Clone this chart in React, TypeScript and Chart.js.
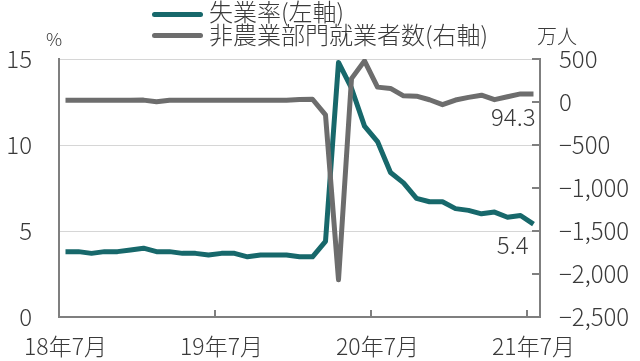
import { useEffect, useRef } from "react";
import { Chart, registerables } from "chart.js";

Chart.register(...registerables);

const months = [
  "18年7月", "18年8月", "18年9月", "18年10月", "18年11月", "18年12月",
  "19年1月", "19年2月", "19年3月", "19年4月", "19年5月", "19年6月",
  "19年7月", "19年8月", "19年9月", "19年10月", "19年11月", "19年12月",
  "20年1月", "20年2月", "20年3月", "20年4月", "20年5月", "20年6月",
  "20年7月", "20年8月", "20年9月", "20年10月", "20年11月", "20年12月",
  "21年1月", "21年2月", "21年3月", "21年4月", "21年5月", "21年6月",
  "21年7月",
];
const xTickLabels = ["18年7月", "19年7月", "20年7月", "21年7月"];

// 失業率 (%), left axis
const unemploymentRate = [
  3.8, 3.8, 3.7, 3.8, 3.8, 3.9,
  4.0, 3.8, 3.8, 3.7, 3.7, 3.6,
  3.7, 3.7, 3.5, 3.6, 3.6, 3.6,
  3.5, 3.5, 4.4, 14.8, 13.3, 11.1,
  10.2, 8.4, 7.8, 6.9, 6.7, 6.7,
  6.3, 6.2, 6.0, 6.1, 5.8, 5.9,
  5.4,
];

// 非農業部門就業者数 (万人), right axis
const nonfarmPayrolls = [
  20, 20, 20, 20, 20, 20,
  22, 3, 20, 21, 20, 20,
  20, 20, 20, 20, 21, 20,
  28, 32, -150, -2068, 272, 478,
  173, 158, 72, 68, 26, -31,
  23, 54, 79, 27, 61, 94,
  94.3,
];

const seriesNames = ["失業率(左軸)", "非農業部門就業者数(右軸)"];
const endLabels = ["5.4", "94.3"];
const leftUnit = "%";
const rightUnit = "万人";
const leftRange = [0, 15, 5];
const rightRange = [-2500, 500, 500];

const TEAL = "#17686b";
const GRAY = "#6d6d6d";
const AXIS = "#7f7f7f";
const GRID = "#d6d6d6";
const TEXT = "#3a3a3a";
const FONT = "'Noto Sans CJK JP', 'Noto Sans', sans-serif";
const WEIGHT = "300";

const fmt = (v: number) => {
  const s = Math.abs(v).toLocaleString("en-US");
  return v < 0 ? "\u2212" + s : s;
};

const decor = {
  id: "decor",
  afterDraw(chart: any) {
    const ctx = chart.ctx;
    const area = chart.chartArea;
    const xs = chart.scales.x;
    const yl = chart.scales.yLeft;
    const yr = chart.scales.yRight;
    ctx.save();

    // inward x tick marks
    ctx.strokeStyle = AXIS;
    ctx.lineWidth = 2;
    const half = (xs.getPixelForValue(1) - xs.getPixelForValue(0)) / 2;
    months.forEach((m, i) => {
      if (i > 0 && xTickLabels.includes(m)) {
        const px = Math.round(xs.getPixelForValue(i) - half);
        ctx.beginPath();
        ctx.moveTo(px, area.bottom);
        ctx.lineTo(px, area.bottom - 7);
        ctx.stroke();
      }
    });
    // inward right-axis tick marks
    yr.ticks.forEach((t: any) => {
      const py = Math.round(yr.getPixelForValue(t.value));
      ctx.beginPath();
      ctx.moveTo(area.right - 8, py);
      ctx.lineTo(area.right, py);
      ctx.stroke();
    });

    // legend
    const rows = [
      { color: TEAL, text: seriesNames[0], ly: 14.5, ty: 12 },
      { color: GRAY, text: seriesNames[1], ly: 35.5, ty: 35 },
    ];
    ctx.lineCap = "round";
    ctx.lineWidth = 5;
    rows.forEach((r) => {
      ctx.strokeStyle = r.color;
      ctx.beginPath();
      ctx.moveTo(154.5, r.ly);
      ctx.lineTo(200.5, r.ly);
      ctx.stroke();
      ctx.fillStyle = TEXT;
      ctx.font = `${WEIGHT} 24px ${FONT}`;
      ctx.textAlign = "left";
      ctx.textBaseline = "middle";
      ctx.fillText(r.text, 209, r.ty);
    });

    // units
    ctx.fillStyle = TEXT;
    ctx.textAlign = "center";
    ctx.textBaseline = "middle";
    ctx.font = `${WEIGHT} 18px ${FONT}`;
    ctx.fillText(leftUnit, 54, 39);
    ctx.font = `${WEIGHT} 20px ${FONT}`;
    ctx.fillText(rightUnit, 557, 36);

    // end labels
    const last = months.length - 1;
    const lx = xs.getPixelForValue(last);
    ctx.font = `${WEIGHT} 24px ${FONT}`;
    ctx.textAlign = "right";
    ctx.fillText(endLabels[1], lx + 2, yr.getPixelForValue(nonfarmPayrolls[last]) + 23);
    ctx.fillText(endLabels[0], lx - 5, yl.getPixelForValue(unemploymentRate[last]) + 21);
    ctx.restore();
  },
};

export default function App() {
  const ref = useRef<HTMLCanvasElement>(null);
  useEffect(() => {
    document.body.style.margin = "0";
    const canvas = ref.current!;
    const tickFont = { family: FONT, size: 24, lineHeight: 1.2, weight: WEIGHT };
    const chart = new Chart(canvas, {
      type: "line",
      data: {
        labels: months,
        datasets: [
          {
            label: seriesNames[1],
            data: nonfarmPayrolls,
            yAxisID: "yRight",
            borderColor: GRAY,
            backgroundColor: GRAY,
            borderWidth: 5,
            pointRadius: 0,
            tension: 0,
            borderJoinStyle: "round",
            order: 0,
          },
          {
            label: seriesNames[0],
            data: unemploymentRate,
            yAxisID: "yLeft",
            borderColor: TEAL,
            backgroundColor: TEAL,
            borderWidth: 5,
            pointRadius: 0,
            tension: 0,
            borderJoinStyle: "round",
            order: 1,
          },
        ],
      },
      options: {
        responsive: false,
        animation: false,
        layout: { padding: { top: 59, left: 0, right: 0, bottom: 0 } },
        plugins: { legend: { display: false }, tooltip: { enabled: false } },
        scales: {
          x: {
            type: "category",
            offset: true,
            grid: { display: false, drawTicks: false },
            border: { display: true, color: AXIS, width: 2 },
            ticks: {
              autoSkip: false,
              maxRotation: 0,
              minRotation: 0,
              padding: 15,
              color: TEXT,
              font: { family: FONT, size: 23, lineHeight: 1.2, weight: WEIGHT },
              callback: (_v: any, i: number) => (xTickLabels.includes(months[i]) ? months[i] : ""),
            },
            afterFit: (s: any) => {
              s.height = 44;
            },
          },
          yLeft: {
            type: "linear",
            position: "left",
            min: leftRange[0],
            max: leftRange[1],
            ticks: { stepSize: leftRange[2], padding: 27, color: TEXT, font: tickFont },
            grid: {
              drawTicks: false,
              lineWidth: 1,
              color: (c: any) => (c.tick && c.tick.value === 0 ? "rgba(0,0,0,0)" : GRID),
            },
            border: { display: true, color: AXIS, width: 2 },
            afterFit: (s: any) => {
              s.width = 59;
            },
          },
          yRight: {
            type: "linear",
            position: "right",
            min: rightRange[0],
            max: rightRange[1],
            ticks: {
              stepSize: rightRange[2],
              padding: 19,
              color: TEXT,
              font: tickFont,
              callback: (v: any) => fmt(Number(v)),
            },
            grid: { drawOnChartArea: false, drawTicks: false },
            border: { display: true, color: AXIS, width: 2 },
            afterFit: (s: any) => {
              s.width = 100;
            },
          },
        },
      },
      plugins: [decor],
    } as any);
    return () => chart.destroy();
  }, []);
  return (
    <div style={{ position: "absolute", left: 0, top: 0, width: 640, height: 361, background: "#fff" }}>
      <canvas ref={ref} width={640} height={361} style={{ display: "block", width: 640, height: 361 }} />
    </div>
  );
}
